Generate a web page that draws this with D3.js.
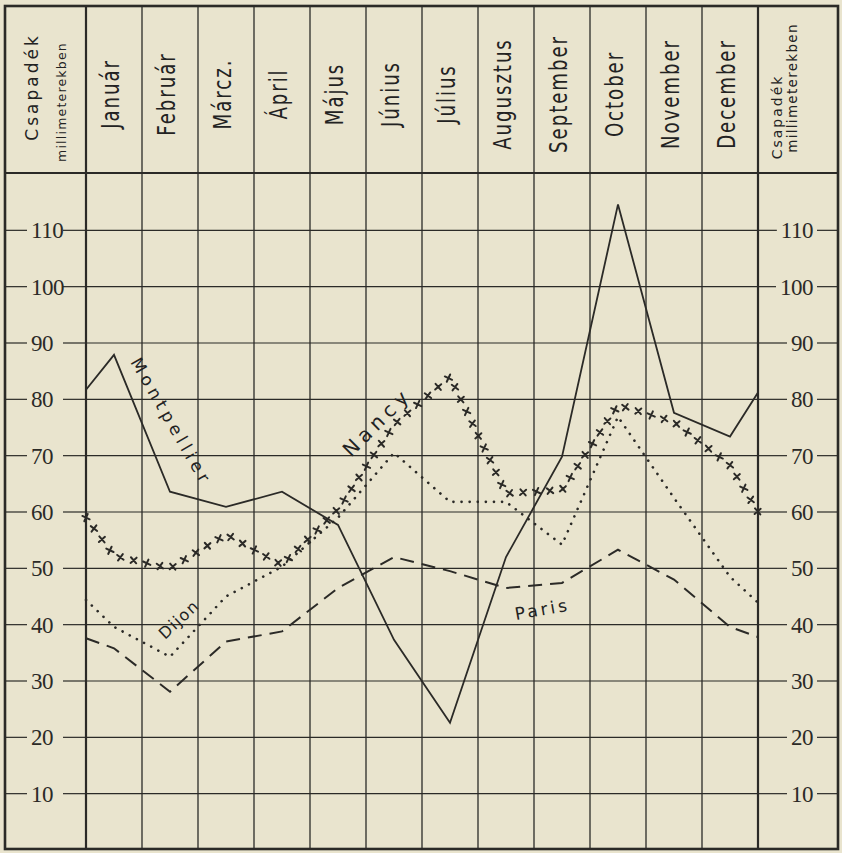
<!DOCTYPE html>
<html lang="hu">
<head>
    <meta charset="UTF-8">
    <title>Csapadék millimeterekben</title>
    <script src="https://d3js.org/d3.v7.min.js"></script>
    <style>
        body { margin: 0; background: #e9e4ce; }
        svg { display: block; }
        .grid { stroke: #2b2a27; stroke-width: 1.2px; }
        .month-label { font-family: "DejaVu Sans", sans-serif; fill: #222; }
        .tick-label { font-family: "Liberation Serif", "DejaVu Serif", serif; font-size: 23px; fill: #2b2a27; }
        .series-label { font-family: "DejaVu Sans", sans-serif; fill: #222; }
    </style>
</head>
<body>

<svg width="842" height="853"></svg>

<script>
    // months (header columns)
    const months = ["Január", "Február", "Márcz.", "Ápril", "Május", "Június",
                    "Július", "Augusztus", "September", "October", "November", "December"];

    // monthly precipitation, mm
    const montpellier = [87.9, 63.6, 60.9, 63.6, 57.7, 37.3, 22.6, 52.0, 69.8, 114.6, 77.6, 73.4];
    const nancy       = [52.2, 50.0, 56.0, 50.6, 60.5, 75.5, 84.0, 63.3, 63.9, 79.0, 76.0, 68.3];
    const dijon       = [39.6, 34.3, 45.0, 50.3, 59.0, 70.5, 61.8, 61.8, 54.2, 76.9, 62.5, 48.5];
    const paris       = [35.8, 28.1, 37.0, 38.8, 46.5, 52.0, 49.5, 46.5, 47.4, 53.3, 48.0, 39.6];

    // where each curve meets the left and right border of the grid
    const montpellierEdges = [81.7, 81.2];
    const nancyEdges       = [59.0, 60.0];
    const dijonEdges       = [44.4, 43.9];
    const parisEdges       = [37.6, 37.8];

    // y axis ticks
    const ticks = [10, 20, 30, 40, 50, 60, 70, 80, 90, 100, 110];

    const width = 842, height = 853;
    const frame = { left: 5, right: 838, top: 6, bottom: 849 };
    const plotLeft = 86, plotRight = 758, headerBottom = 173;
    const ink = "#2b2a27";

    const svg = d3.select("svg");

    const x = d3.scaleLinear().domain([0, 12]).range([plotLeft, plotRight]);
    const y = d3.scaleLinear().domain([0, 120]).range([850, 174]);

    // horizontal grid lines + tick labels on both sides
    ticks.forEach(t => {
        const yy = y(t);
        svg.append("line").attr("class", "grid")
            .attr("x1", plotLeft).attr("x2", plotRight).attr("y1", yy).attr("y2", yy);

        // left axis column
        svg.append("text").attr("class", "tick-label")
            .attr("x", 31).attr("y", yy + 8)
            .attr("letter-spacing", -0.5)
            .text(t);
        svg.append("line").attr("class", "grid")
            .attr("x1", frame.left).attr("x2", 27).attr("y1", yy).attr("y2", yy);
        svg.append("line").attr("class", "grid")
            .attr("x1", 63).attr("x2", plotLeft).attr("y1", yy).attr("y2", yy);

        // right axis column
        const rt = svg.append("text").attr("class", "tick-label")
            .attr("x", 813).attr("y", yy + 8)
            .attr("text-anchor", "end")
            .attr("letter-spacing", -0.5)
            .text(t);
        const bb = rt.node().getBBox();
        svg.append("line").attr("class", "grid")
            .attr("x1", plotRight).attr("x2", bb.x - 4).attr("y1", yy).attr("y2", yy);
        svg.append("line").attr("class", "grid")
            .attr("x1", bb.x + bb.width + 4).attr("x2", frame.right).attr("y1", yy).attr("y2", yy);
    });

    // vertical month separators
    d3.range(1, 12).forEach(i => {
        svg.append("line")
            .attr("x1", x(i)).attr("x2", x(i))
            .attr("y1", frame.top).attr("y2", frame.bottom)
            .attr("stroke", ink).attr("stroke-width", 1.3);
    });

    // heavy lines: axis columns, header, outer frame
    [plotLeft, plotRight].forEach(xx => {
        svg.append("line")
            .attr("x1", xx).attr("x2", xx)
            .attr("y1", frame.top).attr("y2", frame.bottom)
            .attr("stroke", ink).attr("stroke-width", 2.2);
    });
    svg.append("line")
        .attr("x1", frame.left).attr("x2", frame.right)
        .attr("y1", headerBottom).attr("y2", headerBottom)
        .attr("stroke", ink).attr("stroke-width", 2.2);
    svg.append("rect")
        .attr("x", frame.left).attr("y", frame.top)
        .attr("width", frame.right - frame.left).attr("height", frame.bottom - frame.top)
        .attr("fill", "none").attr("stroke", ink).attr("stroke-width", 2.6);

    // month names in the header
    months.forEach((m, i) => {
        svg.append("text").attr("class", "month-label")
            .attr("transform", `translate(${x(i + 0.5) + 5},94) rotate(-90) scale(0.76,1)`)
            .attr("text-anchor", "middle")
            .attr("font-size", 24)
            .attr("letter-spacing", 2.5)
            .text(m);
    });

    // unit headers
    const unitLabels = [
        { t: "Csapadék", x: 38, y: 87, size: 17, ls: 3 },
        { t: "millimeterekben", x: 66, y: 102, size: 12.5, ls: 1.2 },
        { t: "Csapadék", x: 782, y: 117, size: 14, ls: 2 },
        { t: "millimeterekben", x: 797, y: 88, size: 13.5, ls: 1.3 }
    ];
    unitLabels.forEach(d => {
        svg.append("text").attr("class", "month-label")
            .attr("transform", `translate(${d.x},${d.y}) rotate(-90)`)
            .attr("text-anchor", "middle")
            .attr("font-size", d.size)
            .attr("letter-spacing", d.ls)
            .text(d.t);
    });

    // build [position, value] points: left edge, month centres, right edge
    function points(values, edges) {
        return [[0, edges[0]]]
            .concat(values.map((v, i) => [i + 0.5, v]))
            .concat([[12, edges[1]]]);
    }
    const line = d3.line().x(d => x(d[0])).y(d => y(d[1]));

    // Paris - dashed
    svg.append("path")
        .attr("d", line(points(paris, parisEdges)))
        .attr("fill", "none").attr("stroke", ink)
        .attr("stroke-width", 2).attr("stroke-dasharray", "14,8");

    // Dijon - dotted
    svg.append("path")
        .attr("d", line(points(dijon, dijonEdges)))
        .attr("fill", "none").attr("stroke", ink)
        .attr("stroke-width", 2.6).attr("stroke-linecap", "round")
        .attr("stroke-dasharray", "0.1,8");

    // Montpellier - solid
    svg.append("path")
        .attr("d", line(points(montpellier, montpellierEdges)))
        .attr("fill", "none").attr("stroke", ink)
        .attr("stroke-width", 1.8);

    // Nancy - row of small crosses along an invisible path
    const nancyPath = svg.append("path")
        .attr("d", line(points(nancy, nancyEdges)))
        .attr("fill", "none").attr("stroke", "none");
    const total = nancyPath.node().getTotalLength();
    const step = 13.5;
    d3.range(0, total, step).forEach((len, k) => {
        const p = nancyPath.node().getPointAtLength(len);
        const ang = 25 + (k % 3) * 12;
        svg.append("path")
            .attr("transform", `translate(${p.x},${p.y}) rotate(${ang})`)
            .attr("d", "M-4,0L4,0M0,-4L0,4")
            .attr("stroke", ink).attr("stroke-width", 2)
            .attr("stroke-linecap", "round");
    });

    // curve names
    const seriesLabels = [
        { t: "Montpellier", x: 130, y: 362, rot: 60, size: 17, ls: 4.5 },
        { t: "Nancy", x: 351, y: 458, rot: -45, size: 20, ls: 5 },
        { t: "Dijon", x: 165, y: 640, rot: -43, size: 16, ls: 1.5 },
        { t: "Paris", x: 516, y: 620, rot: -10, size: 17, ls: 3 }
    ];
    seriesLabels.forEach(d => {
        svg.append("text").attr("class", "series-label")
            .attr("transform", `translate(${d.x},${d.y}) rotate(${d.rot})`)
            .attr("font-size", d.size)
            .attr("letter-spacing", d.ls)
            .text(d.t);
    });
</script>

</body>
</html>
